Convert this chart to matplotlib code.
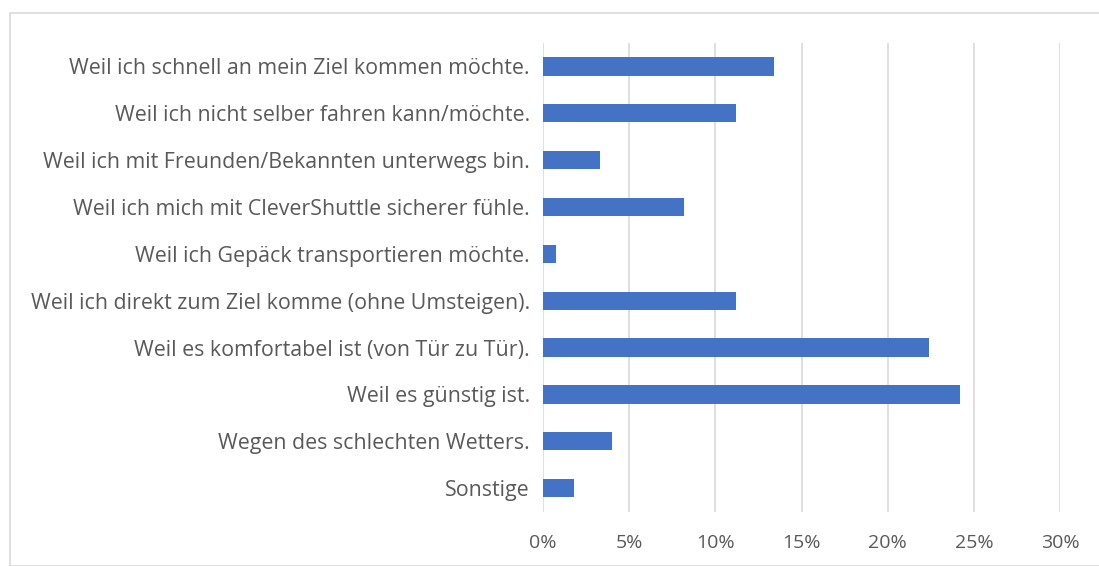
import matplotlib
matplotlib.use("Agg")
import matplotlib.pyplot as plt
from matplotlib.patches import Rectangle

categories = [
    "Weil ich schnell an mein Ziel kommen möchte.",
    "Weil ich nicht selber fahren kann/möchte.",
    "Weil ich mit Freunden/Bekannten unterwegs bin.",
    "Weil ich mich mit CleverShuttle sicherer fühle.",
    "Weil ich Gepäck transportieren möchte.",
    "Weil ich direkt zum Ziel komme (ohne Umsteigen).",
    "Weil es komfortabel ist (von Tür zu Tür).",
    "Weil es günstig ist.",
    "Wegen des schlechten Wetters.",
    "Sonstige",
]
values = [13.4, 11.2, 3.3, 8.2, 0.75, 11.2, 22.4, 24.2, 4.0, 1.8]
xticks = [0, 5, 10, 15, 20, 25, 30]
xticklabels = ["0%", "5%", "10%", "15%", "20%", "25%", "30%"]

W, H = 1099, 566
fig = plt.figure(figsize=(W / 100, H / 100), dpi=100)
fig.patches.append(Rectangle((10 / W, 0), 1.2, (H - 13) / H, transform=fig.transFigure,
                             fill=False, edgecolor="#D9D9D9", linewidth=1.2))

ax = fig.add_axes([543 / W, (H - 511.5) / H, (1060 - 543) / W, (511.5 - 43) / H])
y = list(range(len(categories)))
ax.barh(y, values, height=0.39, color="#4472C4", zorder=3)
ax.set_ylim(len(categories) - 0.5, -0.5)
ax.set_xlim(0, 30)
ax.set_xticks(xticks)
ax.set_xticklabels(xticklabels)
ax.set_yticks(y)
ax.set_yticklabels(categories)
ax.grid(axis="x", color="#D9D9D9", linewidth=1.2, zorder=0)
for s in ax.spines.values():
    s.set_visible(False)
ax.tick_params(axis="both", length=0, colors="#595959")
ax.tick_params(axis="y", pad=9.4, labelsize=15.4)
ax.tick_params(axis="x", pad=16, labelsize=14)
for lab in ax.get_xticklabels() + ax.get_yticklabels():
    lab.set_fontfamily("Open Sans")
    lab.set_color("#595959")

fig.savefig("out.png", dpi=100)
